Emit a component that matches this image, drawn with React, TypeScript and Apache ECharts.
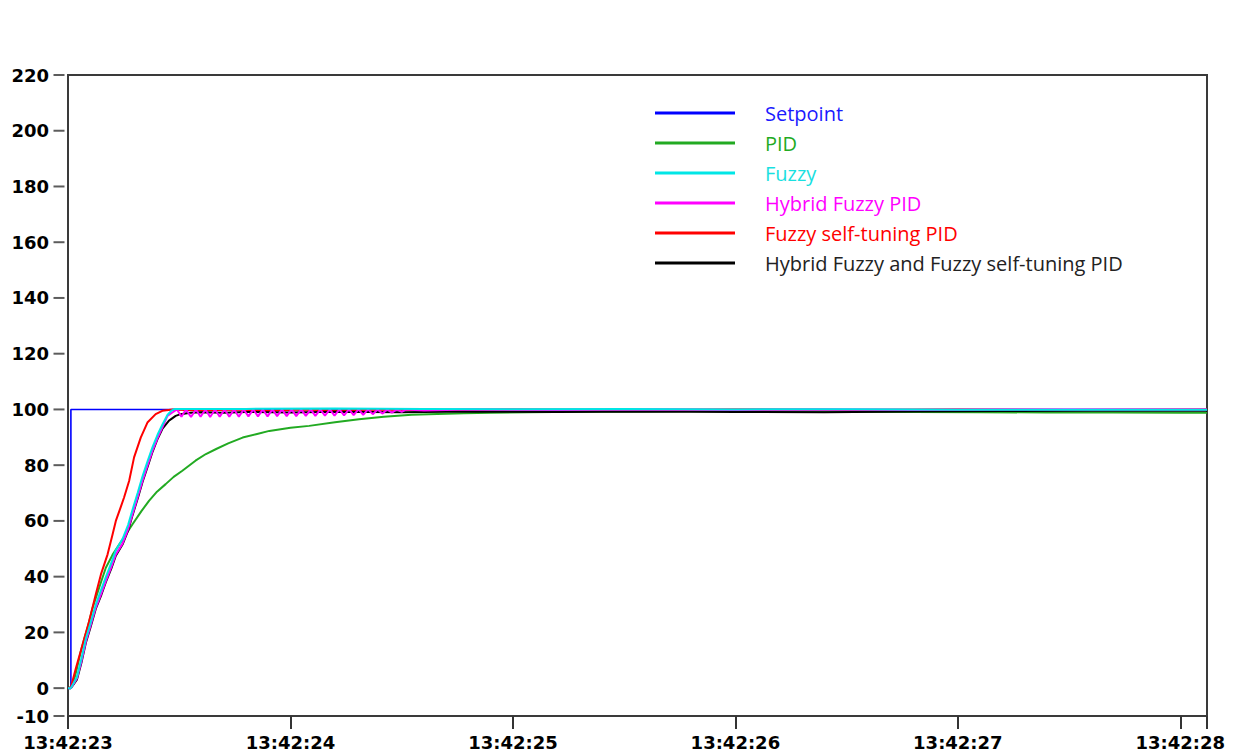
import React, { useEffect, useRef } from 'react';
import * as echarts from 'echarts';

// Time in seconds after 13:42:23
const xTickValues = [0, 1, 2, 3, 4, 5, 5.12];
const xLabelValues = [0, 1, 2, 3, 4, 5];
const xLabelTexts = ['13:42:23', '13:42:24', '13:42:25', '13:42:26', '13:42:27', '13:42:28'];
const yTickValues = [-10, 0, 20, 40, 60, 80, 100, 120, 140, 160, 180, 200, 220];

const seriesNames = [
  'Setpoint',
  'PID',
  'Fuzzy',
  'Hybrid Fuzzy PID',
  'Fuzzy self-tuning PID',
  'Hybrid Fuzzy and Fuzzy self-tuning PID',
];
const seriesColors = ['#0000ff', '#22aa22', '#00e6e6', '#ff00ff', '#ff0000', '#000000'];
const legendTextColors = ['#1a1aff', '#22aa22', '#19e0e0', '#ff00ff', '#ff0000', '#222222'];

const setpointData = [[0, 0], [0.013, 0], [0.013, 100], [5.12, 100]];

const pidData = [
  [0, 0], [0.013, 0.3], [0.022, 1.3], [0.04, 7], [0.058, 13.3], [0.074, 18], [0.088, 21.7],
  [0.111, 28.9], [0.14, 36], [0.17, 43.2], [0.2, 47.8], [0.23, 51.5], [0.263, 55.5], [0.29, 58.8],
  [0.33, 63.5], [0.364, 67.2], [0.4, 70.5], [0.439, 73.2], [0.475, 75.8], [0.514, 78], [0.573, 81.6],
  [0.62, 84], [0.666, 85.8], [0.72, 87.8], [0.785, 89.9], [0.85, 91.2], [0.905, 92.3], [1.0, 93.4],
  [1.084, 94.1], [1.2, 95.4], [1.308, 96.5], [1.42, 97.4], [1.545, 98.1], [1.66, 98.4], [1.78, 98.6],
  [1.9, 98.8], [2.07, 99.0], [2.3, 99.2], [2.6, 99.3], [2.9, 99.4], [3.2, 99.3], [3.5, 99.2],
  [3.8, 99.1], [4.1, 99.0], [4.4, 98.9], [4.7, 98.9], [5.0, 98.8], [5.12, 98.8],
];

const fuzzySelfTuningData = [
  [0, 0], [0.013, 0.3], [0.036, 7.3], [0.06, 14], [0.095, 24], [0.125, 33.7], [0.148, 40.8],
  [0.178, 48], [0.2, 55], [0.215, 60], [0.235, 64.5], [0.252, 68.4], [0.275, 74.4], [0.297, 82.8],
  [0.327, 89.9], [0.357, 95.3], [0.394, 98.3], [0.424, 99.5], [0.47, 100], [0.6, 99.6], [0.75, 100],
  [0.9, 99.5], [1.05, 100], [1.2, 99.6], [1.4, 100], [1.6, 99.7], [2.0, 100], [2.5, 99.8], [3, 100],
  [3.5, 99.8], [4, 100], [4.5, 99.8], [5.12, 100],
];

const hybridBothData = [
  [0, 0], [0.013, 0], [0.04, 3], [0.06, 9], [0.081, 16.5], [0.1, 21.5], [0.125, 28.5], [0.15, 33.5],
  [0.17, 38], [0.195, 43], [0.215, 47.5], [0.245, 51.5], [0.27, 56.5], [0.29, 62], [0.313, 68],
  [0.335, 74], [0.358, 79.5], [0.38, 84.8], [0.403, 89.5], [0.424, 93], [0.454, 96], [0.484, 97.7],
  [0.506, 98.3], [0.55, 98.8], [0.6, 99], [0.7, 98.8], [0.8, 99.1], [1.0, 98.9], [1.2, 99.2],
  [1.5, 99.0], [1.8, 99.3], [2.2, 99.1], [2.6, 99.3], [3.0, 99.1], [3.4, 99.0], [3.8, 99.3],
  [4.2, 99.4], [4.6, 99.5], [5.12, 99.5],
];

const hybridFuzzyPidData = [
  [0, 0], [0.013, 0], [0.04, 3.5], [0.06, 9.5], [0.081, 16.9], [0.1, 22], [0.125, 28.9], [0.15, 34],
  [0.17, 38.4], [0.195, 43.5], [0.215, 48], [0.245, 51.8], [0.27, 57], [0.29, 62.4], [0.313, 68.5],
  [0.335, 74.4], [0.358, 80], [0.38, 85.2], [0.403, 89.8], [0.424, 93.5], [0.447, 97.7], [0.469, 98.9],
  [0.49, 100], [0.51, 97.4], [0.53, 100], [0.553, 97.3], [0.575, 100], [0.596, 97.4], [0.618, 100],
  [0.639, 97.3], [0.661, 100], [0.682, 97.4], [0.704, 100], [0.725, 97.4], [0.747, 100], [0.768, 97.4],
  [0.79, 100], [0.811, 97.5], [0.833, 100], [0.854, 97.5], [0.876, 100], [0.897, 97.5], [0.919, 100],
  [0.94, 97.6], [0.962, 100], [0.983, 97.6], [1.005, 100], [1.026, 97.6], [1.048, 100], [1.069, 97.7],
  [1.091, 100], [1.112, 97.7], [1.134, 100], [1.155, 97.8], [1.177, 100], [1.198, 97.8], [1.22, 100],
  [1.241, 97.9], [1.263, 100], [1.284, 98.0], [1.306, 100], [1.327, 98.1], [1.349, 100], [1.37, 98.3],
  [1.392, 100], [1.413, 98.5], [1.435, 100], [1.456, 98.8], [1.478, 100], [1.5, 99.1], [1.52, 100],
  [1.6, 99.6], [1.8, 100], [2.2, 99.8], [2.6, 100], [3, 99.8], [3.4, 100], [3.8, 99.8], [4.2, 100],
  [4.6, 100], [5.12, 100],
];

const fuzzyData = [
  [0, 0], [0.013, 0], [0.04, 4], [0.06, 10.5], [0.081, 18], [0.1, 23], [0.125, 30], [0.15, 35.5],
  [0.17, 39.8], [0.195, 45], [0.215, 49.5], [0.245, 53.5], [0.27, 58.5], [0.29, 64], [0.313, 70],
  [0.335, 76], [0.358, 81.5], [0.38, 86.5], [0.403, 91], [0.424, 94.5], [0.447, 98], [0.465, 99.6],
  [0.48, 100.2], [0.8, 100.2], [1.2, 100.3], [1.6, 100.2], [2.0, 100.1], [2.5, 100.2], [3.0, 100],
  [3.5, 100.1], [4.0, 99.9], [4.5, 99.9], [5.12, 99.9],
];

export default function App() {
  const ref = useRef<HTMLDivElement>(null);
  useEffect(() => {
    document.body.style.margin = '0';
    const chart = echarts.init(ref.current!, null, { renderer: 'svg' });
    const labelFont = {
      fontFamily: 'DejaVu Sans',
      fontWeight: 'bold' as const,
      fontSize: 18,
      color: '#000',
    };
    const axisLineStyle = { color: '#3a3a3a', width: 2 };
    const tickLineStyle = { color: '#333333', width: 2 };
    const mk = (name: string, data: number[][], width: number) => ({
      name,
      type: 'line',
      data,
      showSymbol: false,
      symbol: 'none',
      color: seriesColors[seriesNames.indexOf(name)],
      lineStyle: { width, color: seriesColors[seriesNames.indexOf(name)] },
      emphasis: { disabled: true },
    });
    chart.setOption({
      animation: false,
      backgroundColor: '#fff',
      grid: {
        left: 68,
        right: 53,
        top: 75,
        bottom: 40,
        show: true,
        borderColor: '#3a3a3a',
        borderWidth: 2,
        backgroundColor: 'transparent',
      },
      legend: {
        orient: 'vertical',
        left: 655,
        top: 103,
        padding: 0,
        itemWidth: 80,
        itemHeight: 3,
        itemGap: 10,
        icon: 'rect',
        data: seriesNames.map((n, i) => ({
          name: n,
          textStyle: { color: legendTextColors[i] },
        })),
        textStyle: {
          fontFamily: 'Open Sans',
          fontSize: 20,
          lineHeight: 20,
          padding: [0, 0, 0, 25],
        },
        selectedMode: false,
      },
      xAxis: {
        type: 'value',
        min: 0,
        max: 5.12,
        splitLine: { show: false },
        axisLine: { show: true, onZero: false, lineStyle: axisLineStyle },
        axisTick: {
          show: true,
          customValues: xTickValues,
          length: 13,
          lineStyle: tickLineStyle,
        },
        axisLabel: {
          customValues: xLabelValues,
          margin: 17,
          ...labelFont,
          formatter: (v: number) => xLabelTexts[Math.round(v)] ?? '',
        },
      },
      yAxis: {
        type: 'value',
        min: -10,
        max: 220,
        interval: 10,
        splitLine: { show: false },
        axisLine: { show: true, onZero: false, lineStyle: axisLineStyle },
        axisTick: { show: false },
        axisLabel: {
          show: true,
          customValues: yTickValues,
          margin: 19,
          ...labelFont,
        },
      },
      series: [
        {
          name: 'yTicks',
          type: 'scatter',
          data: yTickValues.map((v) => [0, v]),
          symbol: 'rect',
          symbolSize: [11, 2],
          symbolOffset: [-9, 0],
          clip: false,
          silent: true,
          itemStyle: { color: '#333333' },
          emphasis: { disabled: true },
          z: 1,
        },
        mk('Setpoint', setpointData, 1.6),
        mk('PID', pidData, 2),
        mk('Fuzzy self-tuning PID', fuzzySelfTuningData, 2),
        mk('Hybrid Fuzzy and Fuzzy self-tuning PID', hybridBothData, 2),
        mk('Hybrid Fuzzy PID', hybridFuzzyPidData, 2),
        mk('Fuzzy', fuzzyData, 2),
      ],
    });
    return () => chart.dispose();
  }, []);
  return <div ref={ref} style={{ width: 1260, height: 756 }} />;
}
